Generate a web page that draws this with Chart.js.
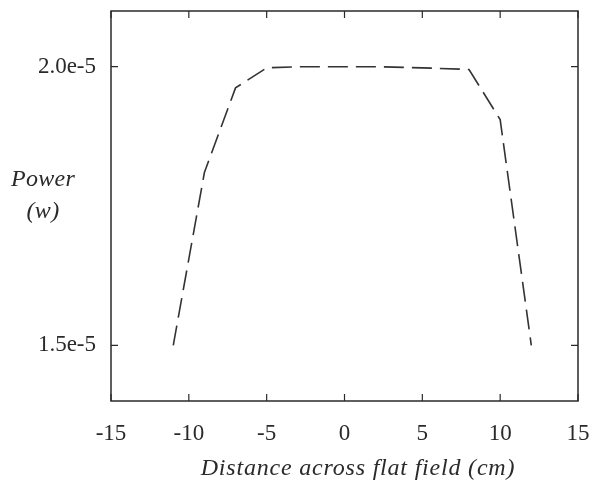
<!DOCTYPE html>
<html>
<head>
<meta charset="utf-8">
<script src="https://cdn.jsdelivr.net/npm/chart.js@4/dist/chart.umd.min.js"></script>
<style>
  html, body { margin: 0; padding: 0; background: #fff; }
  #wrap { width: 592px; height: 483px; position: relative; }
</style>
</head>
<body>
<div id="wrap"><canvas id="chart"></canvas></div>
<script>
// distance across flat field (cm)
const distance = [-11, -9, -7, -5, -3, 0, 2, 5, 8, 10, 12];
// power (w)
const power = [1.50e-5, 1.81e-5, 1.962e-5, 1.998e-5, 2.0e-5, 2.0e-5, 2.0e-5, 1.998e-5, 1.995e-5, 1.905e-5, 1.50e-5];
const xTicks = [-15, -10, -5, 0, 5, 10, 15];
const yTicks = [1.5e-5, 2.0e-5];
const yLabels = ["1.5e-5", "2.0e-5"];

const serif = "'Liberation Serif', 'Times New Roman', serif";
const ink = "#2a2a2a";

// frame, inward ticks on all four sides, and the two axis titles
const framePlugin = {
  id: "frame",
  afterDraw(chart) {
    const { ctx, chartArea: a, scales } = chart;
    const len = 7;
    ctx.save();
    ctx.strokeStyle = ink;
    ctx.lineWidth = 1.5;
    ctx.strokeRect(a.left, a.top, a.right - a.left, a.bottom - a.top);
    ctx.lineWidth = 1.2;
    ctx.beginPath();
    xTicks.forEach(v => {
      const px = scales.x.getPixelForValue(v);
      ctx.moveTo(px, a.bottom); ctx.lineTo(px, a.bottom - len);
      ctx.moveTo(px, a.top); ctx.lineTo(px, a.top + len);
    });
    yTicks.forEach(v => {
      const py = scales.y.getPixelForValue(v);
      ctx.moveTo(a.left, py); ctx.lineTo(a.left + len, py);
      ctx.moveTo(a.right, py); ctx.lineTo(a.right - len, py);
    });
    ctx.stroke();

    ctx.fillStyle = ink;
    ctx.font = "italic 24px " + serif;
    ctx.textAlign = "center";
    ctx.textBaseline = "middle";
    ctx.letterSpacing = "0.3px";
    ctx.fillText("Power", 43, 180);
    ctx.fillText("(w)", 43, 212);
    ctx.letterSpacing = "0.8px";
    ctx.fillText("Distance across flat field (cm)", 358, 469);
    ctx.restore();
  }
};

new Chart(document.getElementById("chart"), {
  type: "line",
  data: {
    datasets: [{
      data: distance.map((d, i) => ({ x: d, y: power[i] })),
      borderColor: "#333",
      borderWidth: 1.6,
      borderDash: [20, 8],
      pointRadius: 0,
      tension: 0,
      fill: false
    }]
  },
  options: {
    responsive: true,
    maintainAspectRatio: false,
    animation: false,
    layout: { padding: { top: 11, right: 14, left: 0, bottom: 0 } },
    plugins: { legend: { display: false }, tooltip: { enabled: false } },
    scales: {
      x: {
        type: "linear",
        min: -15,
        max: 15,
        grid: { display: false, drawTicks: false },
        border: { display: false },
        afterBuildTicks: s => { s.ticks = xTicks.map(v => ({ value: v })); },
        ticks: {
          padding: 19,
          color: ink,
          font: { family: serif, size: 23 },
          maxRotation: 0
        },
        afterFit: s => {
          s.height = 82;
          s.paddingLeft = 0;
          s.paddingRight = 0;
        }
      },
      y: {
        type: "linear",
        min: 1.4e-5,
        max: 2.1e-5,
        grid: { display: false, drawTicks: false },
        border: { display: false },
        afterBuildTicks: s => { s.ticks = yTicks.map(v => ({ value: v })); },
        ticks: {
          padding: 15,
          color: ink,
          font: { family: serif, size: 23 },
          callback: (v) => yLabels[yTicks.findIndex(t => Math.abs(t - v) < 1e-9)]
        },
        afterFit: s => {
          s.width = 111;
          s.paddingTop = 0;
          s.paddingBottom = 0;
        }
      }
    }
  },
  plugins: [framePlugin]
});
</script>
</body>
</html>
